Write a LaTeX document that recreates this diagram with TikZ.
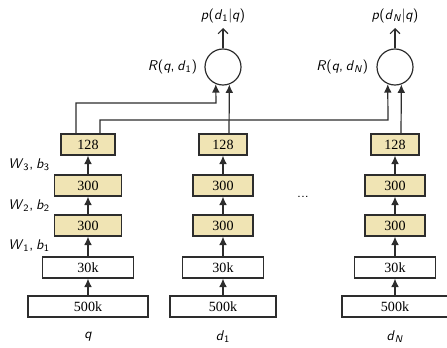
\documentclass[tikz,border=0pt]{standalone}
\usepackage{fontspec}
\setmainfont{Liberation Serif}
\usepackage{tikz}
\usetikzlibrary{arrows.meta}
\definecolor{layerfill}{RGB}{240,228,180}
\definecolor{edgegray}{RGB}{45,45,45}
\newcommand{\sv}[1]{\textit{#1}}
\newcommand{\sub}[1]{\textsubscript{#1}}

\tikzset{
  unit/.style={draw=edgegray, line width=0.85pt, minimum height=0.525cm, inner sep=0pt},
  hidden/.style={unit, fill=layerfill},
  up/.style={-{Latex[length=6pt,width=5.5pt]}, line width=0.85pt, draw=edgegray},
  outarrow/.style={-{Straight Barb[length=3.5pt,width=7pt]}, line width=0.85pt, draw=edgegray},
  score/.style={circle, draw=edgegray, line width=0.85pt, minimum size=0.9cm, inner sep=0pt},
  varlabel/.style={font=\sffamily}
}

\begin{document}
\begin{tikzpicture}[x=0.025cm, y=-0.025cm]
			\useasboundingbox (0,0) rectangle (447,348);
			% query column
			\node[unit, minimum width=3cm] (q500) at (88,306.5) {500k};
			\node[unit, minimum width=2.275cm] (q30) at (88,267.5) {30k};
			\node[hidden, minimum width=1.675cm] (q300a) at (88,225.5) {300};
			\node[hidden, minimum width=1.675cm] (q300b) at (88,185.5) {300};
			\node[hidden, minimum width=1.35cm] (q128) at (88,144.5) {128};
			% document d_1
			\node[unit, minimum width=2.65cm] (a500) at (223,306.5) {500k};
			\node[unit, minimum width=2.025cm] (a30) at (223,267.5) {30k};
			\node[hidden, minimum width=1.5cm] (a300a) at (223,225.5) {300};
			\node[hidden, minimum width=1.5cm] (a300b) at (223,185.5) {300};
			\node[hidden, minimum width=1.2cm] (a128) at (223,144.5) {128};
			% document d_N
			\node[unit, minimum width=2.65cm] (n500) at (395,306.5) {500k};
			\node[unit, minimum width=2.025cm] (n30) at (395,267.5) {30k};
			\node[hidden, minimum width=1.5cm] (n300a) at (395,225.5) {300};
			\node[hidden, minimum width=1.5cm] (n300b) at (395,185.5) {300};
			\node[hidden, minimum width=1.2cm] (n128) at (395,144.5) {128};

			\draw[up] (q500) -- (q30);
			\draw[up] (q30) -- (q300a);
			\draw[up] (q300a) -- (q300b);
			\draw[up] (q300b) -- (q128);
			\draw[up] (a500) -- (a30);
			\draw[up] (a30) -- (a300a);
			\draw[up] (a300a) -- (a300b);
			\draw[up] (a300b) -- (a128);
			\draw[up] (n500) -- (n30);
			\draw[up] (n30) -- (n300a);
			\draw[up] (n300a) -- (n300b);
			\draw[up] (n300b) -- (n128);

			\node[varlabel] (lq) at (88,337) {\sv{q}};
			\node[varlabel] (la) at (223,337) {\sv{d}\sub{1}};
			\node[varlabel] (ln) at (395,337) {\sv{d}\sub{\sv{N}}};
			\node[varlabel, anchor=west, inner sep=0pt] (w1) at (8,246) {\sv{W}\sub{1},\hspace{0.2em}\sv{b}\sub{1}};
			\node[varlabel, anchor=west, inner sep=0pt] (w2) at (8,205.5) {\sv{W}\sub{2},\hspace{0.2em}\sv{b}\sub{2}};
			\node[varlabel, anchor=west, inner sep=0pt] (w3) at (8,165) {\sv{W}\sub{3},\hspace{0.2em}\sv{b}\sub{3}};
			\node[varlabel] (dots) at (303,197) {...};

			% relevance scores
			\node[score] (ra) at (223,67) {};
			\node[score] (rn) at (395,67) {};
			\node[varlabel, anchor=east] (lra) at (202,67) {\sv{R}(\sv{q},\hspace{0.2em}\sv{d}\sub{1})};
			\node[varlabel, anchor=east] (lrn) at (373,67) {\sv{R}(\sv{q},\hspace{0.2em}\sv{d}\sub{\sv{N}})};
			\node[varlabel] (pa) at (223,16) {\sv{p}(\sv{d}\sub{1}|\sv{q})};
			\node[varlabel] (pn) at (395,16) {\sv{p}(\sv{d}\sub{\sv{N}}|\sv{q})};
			\draw[outarrow] (ra) -- (pa);
			\draw[outarrow] (rn) -- (pn);

			\coordinate (qa) at (216,103);
			\coordinate (qn) at (388,120);
			\draw[up] ([xshift=-0.3cm]q128.north) |- (qa) -- (ra.247);
			\draw[up] ([xshift=0.3cm]q128.north) |- (qn) -- (rn.247);
			\draw[up] ([xshift=0.15cm]a128.north) -- (ra.290);
			\draw[up] ([xshift=0.15cm]n128.north) -- (rn.290);
		\end{tikzpicture}
\end{document}
